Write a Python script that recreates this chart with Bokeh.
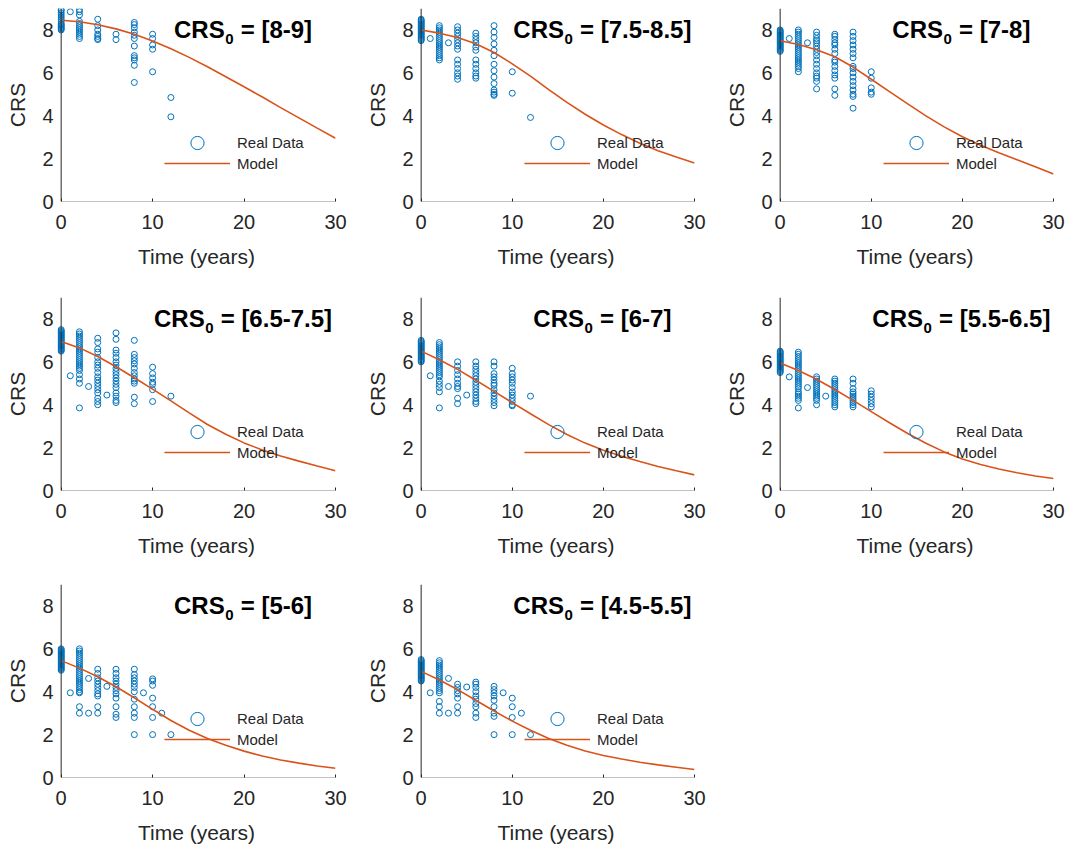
from bokeh.plotting import figure
from bokeh.layouts import column, row
from bokeh.models import (Range1d, Label, Legend, LegendItem, FixedTicker, ColumnDataSource,
                          Span, BoxAnnotation)
from bokeh.embed import file_html
from bokeh.resources import INLINE

# ---------------- data ----------------
TIME_TICKS = [0, 10, 20, 30]
CRS_TICKS = [0, 2, 4, 6, 8]
MODEL_T = [0, 2, 4, 6, 8, 10, 12, 14, 16, 18, 20, 22, 24, 26, 28, 30]

PANEL_RANGES = ["[8-9]", "[7.5-8.5]", "[7-8]", "[6.5-7.5]", "[6-7]", "[5.5-6.5]", "[5-6]", "[4.5-5.5]"]

model_8_9 = [8.45, 8.38, 8.24, 8.05, 7.8, 7.48, 7.12, 6.72, 6.28, 5.82, 5.35, 4.87, 4.38, 3.9, 3.42, 2.95]
model_75_85 = [8.0, 7.85, 7.65, 7.36, 6.95, 6.42, 5.85, 5.22, 4.62, 4.07, 3.57, 3.12, 2.72, 2.37, 2.07, 1.8]
model_7_8 = [7.5, 7.32, 7.08, 6.75, 6.27, 5.7, 5.12, 4.55, 3.99, 3.48, 3.02, 2.62, 2.27, 1.95, 1.62, 1.28]
model_65_75 = [6.95, 6.65, 6.25, 5.77, 5.26, 4.73, 4.18, 3.62, 3.08, 2.62, 2.22, 1.89, 1.61, 1.37, 1.14, 0.92]
model_6_7 = [6.5, 6.1, 5.65, 5.14, 4.62, 4.1, 3.58, 3.07, 2.61, 2.21, 1.88, 1.6, 1.35, 1.12, 0.92, 0.73]
model_55_65 = [5.95, 5.6, 5.19, 4.71, 4.2, 3.68, 3.16, 2.66, 2.2, 1.8, 1.47, 1.21, 1.0, 0.83, 0.68, 0.56]
model_5_6 = [5.45, 5.1, 4.7, 4.23, 3.72, 3.18, 2.66, 2.2, 1.82, 1.5, 1.23, 1.0, 0.82, 0.67, 0.54, 0.43]
model_45_55 = [4.95, 4.55, 4.1, 3.6, 3.1, 2.63, 2.2, 1.82, 1.5, 1.24, 1.03, 0.86, 0.71, 0.59, 0.48, 0.37]

real_8_9 = {
    0: [8.0, 8.05, 8.1, 8.15, 8.2, 8.25, 8.3, 8.4, 8.5, 8.6, 8.7, 8.8, 8.9, 8.95],
    1: [8.85],
    2: [8.95, 8.85, 8.7, 8.4, 8.3, 8.2, 8.1, 8.0, 7.9, 7.8, 7.7, 7.6],
    4: [8.5, 8.2, 8.0, 7.8, 7.7, 7.6, 7.55],
    6: [7.8, 7.55],
    8: [8.35, 8.25, 8.1, 7.9, 7.75, 7.6, 7.25, 6.8, 6.7, 6.6, 6.35, 5.55],
    10: [7.8, 7.6, 7.3, 7.1, 6.05],
    12: [4.85, 3.95],
}
real_75_85 = {
    0: [7.5, 7.55, 7.6, 7.65, 7.7, 7.75, 7.8, 7.85, 7.9, 7.95, 8.0, 8.05, 8.1, 8.15, 8.2, 8.25, 8.3, 8.35, 8.4, 8.45, 8.5],
    1: [7.6],
    2: [8.2, 8.1, 8.0, 7.9, 7.8, 7.7, 7.6, 7.5, 7.4, 7.3, 7.2, 7.1, 7.0, 6.9, 6.8, 6.7, 6.6],
    3: [7.4],
    4: [8.15, 8.0, 7.85, 7.7, 7.55, 7.4, 7.25, 7.1, 6.6, 6.4, 6.2, 6.0, 5.85, 5.7],
    6: [7.85, 7.7, 7.55, 7.4, 7.2, 7.05, 6.6, 6.4, 6.2, 6.0, 5.85, 5.75],
    8: [8.2, 7.9, 7.65, 7.35, 7.05, 6.8, 6.4, 6.1, 5.8, 5.5, 5.2, 5.1, 5.0, 4.95],
    10: [6.05, 5.05],
    12: [3.92],
}
real_7_8 = {
    0: [7.0, 7.05, 7.1, 7.15, 7.2, 7.25, 7.3, 7.35, 7.4, 7.45, 7.5, 7.55, 7.6, 7.65, 7.7, 7.75, 7.8, 7.85, 7.9, 7.95, 8.0],
    1: [7.6],
    2: [8.0, 7.9, 7.8, 7.7, 7.6, 7.5, 7.4, 7.3, 7.2, 7.1, 7.0, 6.9, 6.8, 6.7, 6.6, 6.5, 6.4, 6.3, 6.2, 6.05],
    3: [7.4],
    4: [7.9, 7.75, 7.6, 7.5, 7.4, 7.25, 7.1, 6.95, 6.8, 6.6, 6.4, 6.2, 6.0, 5.85, 5.75, 5.6, 5.25],
    6: [7.8, 7.7, 7.55, 7.4, 7.3, 7.1, 6.9, 6.6, 6.5, 6.3, 6.1, 5.9, 5.75, 5.25, 4.95],
    8: [7.9, 7.7, 7.5, 7.3, 7.1, 6.9, 6.7, 6.3, 6.2, 6.0, 5.8, 5.6, 5.4, 5.2, 5.0, 4.9, 4.35],
    10: [6.05, 5.75, 5.3, 5.1, 5.0],
}
real_65_75 = {
    0: [6.5, 6.55, 6.6, 6.65, 6.7, 6.75, 6.8, 6.85, 6.9, 6.95, 7.0, 7.05, 7.1, 7.15, 7.2, 7.25, 7.3, 7.35, 7.4, 7.45, 7.5],
    1: [5.35],
    2: [7.4, 7.3, 7.2, 7.1, 7.0, 6.9, 6.8, 6.7, 6.6, 6.5, 6.4, 6.3, 6.2, 6.1, 6.0, 5.9, 5.8, 5.7, 5.6, 5.4, 5.2, 5.0, 3.85],
    3: [4.85],
    4: [7.1, 6.9, 6.6, 6.45, 6.2, 6.0, 5.85, 5.7, 5.5, 5.3, 5.15, 5.0, 4.85, 4.7, 4.55, 4.3, 4.15, 4.0],
    5: [4.45],
    6: [7.35, 7.05, 6.55, 6.4, 6.2, 6.0, 5.85, 5.7, 5.55, 5.4, 5.25, 5.1, 4.95, 4.8, 4.55, 4.4, 4.2, 4.1],
    8: [7.0, 6.35, 6.2, 6.05, 5.9, 5.7, 5.5, 5.35, 5.2, 5.1, 5.0, 4.35, 4.05],
    10: [5.75, 5.45, 5.25, 5.05, 4.95, 4.7, 4.15],
    12: [4.4],
}
real_6_7 = {
    0: [6.0, 6.05, 6.1, 6.15, 6.2, 6.25, 6.3, 6.35, 6.4, 6.45, 6.5, 6.55, 6.6, 6.65, 6.7, 6.75, 6.8, 6.85, 6.9, 6.95, 7.0],
    1: [5.35],
    2: [6.9, 6.8, 6.7, 6.6, 6.5, 6.4, 6.3, 6.2, 6.1, 6.0, 5.9, 5.8, 5.7, 5.6, 5.5, 5.4, 5.3, 5.1, 4.95, 4.8, 4.6, 3.85],
    3: [4.85],
    4: [6.0, 5.8, 5.6, 5.4, 5.2, 5.0, 4.85, 4.75, 4.3, 4.05],
    5: [4.45],
    6: [6.0, 5.8, 5.65, 5.5, 5.35, 5.2, 5.05, 4.9, 4.75, 4.6, 4.45, 4.3, 4.15, 4.05],
    8: [6.0, 5.8, 5.45, 5.3, 5.15, 5.0, 4.9, 4.7, 4.55, 4.4, 4.25, 4.1, 3.95],
    10: [5.7, 5.45, 5.3, 5.15, 5.0, 4.8, 4.6, 4.45, 4.3, 4.15, 4.0, 3.95],
    12: [4.4],
}
real_55_65 = {
    0: [5.5, 5.55, 5.6, 5.65, 5.7, 5.75, 5.8, 5.85, 5.9, 5.95, 6.0, 6.05, 6.1, 6.15, 6.2, 6.25, 6.3, 6.35, 6.4, 6.45, 6.5],
    1: [5.3],
    2: [6.45, 6.35, 6.25, 6.15, 6.05, 5.95, 5.85, 5.75, 5.65, 5.55, 5.45, 5.35, 5.25, 5.15, 5.05, 4.95, 4.85, 4.75, 4.6, 4.5, 4.4, 4.3, 4.2, 3.85],
    3: [4.8],
    4: [5.3, 5.2, 5.1, 5.0, 4.9, 4.8, 4.7, 4.6, 4.5, 4.4, 4.3, 4.2, 4.0],
    5: [4.4],
    6: [5.2, 5.1, 5.0, 4.9, 4.8, 4.7, 4.6, 4.5, 4.4, 4.3, 4.2, 4.1, 4.0, 3.9],
    8: [5.2, 5.0, 4.75, 4.6, 4.5, 4.4, 4.3, 4.2, 4.1, 4.0, 3.9],
    10: [4.65, 4.5, 4.35, 4.2, 4.05, 3.9],
}
real_5_6 = {
    0: [5.0, 5.05, 5.1, 5.15, 5.2, 5.25, 5.3, 5.35, 5.4, 5.45, 5.5, 5.55, 5.6, 5.65, 5.7, 5.75, 5.8, 5.85, 5.9, 5.95, 6.0],
    1: [3.95],
    2: [6.0, 5.9, 5.8, 5.7, 5.6, 5.5, 5.4, 5.3, 5.2, 5.1, 5.0, 4.9, 4.8, 4.7, 4.6, 4.5, 4.4, 4.3, 4.2, 4.1, 4.0, 3.95, 3.3, 3.0],
    3: [4.62, 3.0],
    4: [5.05, 4.85, 4.65, 4.5, 4.35, 4.2, 4.05, 3.9, 3.8, 3.3, 3.0],
    5: [4.25],
    6: [5.05, 4.85, 4.65, 4.5, 4.35, 4.2, 4.05, 3.9, 3.7, 3.3, 2.95, 2.8],
    8: [5.05, 4.8, 4.65, 4.5, 4.35, 4.2, 4.0, 3.65, 3.3, 3.0, 2.8, 2.0],
    9: [3.95],
    10: [4.6, 4.5, 4.3, 3.7, 3.3, 2.8, 2.0],
    11: [3.0],
    12: [2.0],
}
real_45_55 = {
    0: [4.5, 4.55, 4.6, 4.65, 4.7, 4.75, 4.8, 4.85, 4.9, 4.95, 5.0, 5.05, 5.1, 5.15, 5.2, 5.25, 5.3, 5.35, 5.4, 5.45, 5.5],
    1: [3.95],
    2: [5.45, 5.35, 5.25, 5.15, 5.05, 4.95, 4.85, 4.75, 4.65, 4.55, 4.45, 4.35, 4.25, 4.15, 4.05, 3.95, 3.55, 3.3, 3.0],
    3: [4.62, 3.0],
    4: [4.35, 4.2, 4.05, 3.9, 3.7, 3.3, 3.0],
    5: [4.22],
    6: [4.45, 4.35, 4.2, 4.0, 3.8, 3.65, 3.45, 3.3, 3.0, 2.8],
    8: [4.25, 4.1, 3.95, 3.8, 3.6, 3.3, 3.0, 2.85, 2.0],
    9: [3.95],
    10: [3.7, 3.3, 2.8, 2.0],
    11: [3.0],
    12: [2.0],
}

REAL = [real_8_9, real_75_85, real_7_8, real_65_75, real_6_7, real_55_65, real_5_6, real_45_55]
MODEL = [model_8_9, model_75_85, model_7_8, model_65_75, model_6_7, model_55_65, model_5_6, model_45_55]

# ---------------- style ----------------
BLUE = "#0072BD"
ORANGE = "#D95319"
AXC = "#262626"
FONT = "Liberation Sans"

X_PAD = 0.4  # small room left of the y axis so circles at t=0 are not cut
COL_W = [359, 359, 351]
COL_LEFT = [57, 58, 58]
COL_RIGHT = [24, 24, 16]
ROW_H = [290, 288, 270]
ROW_TOP = [8, 7, 6]
ROW_BOTTOM = [89, 88, 71]

BOLD_W = {"C": .722, "R": .722, "S": .667, " ": .278, "=": .584, "[": .333,
          "]": .333, "-": .333, ".": .278}
for d in "0123456789":
    BOLD_W[d] = .556


def tw(s, size):
    return sum(BOLD_W[c] for c in s) * size


TITLE_SIZE = 24
SUB_SIZE = 15


def make_panel(i):
    r, c = divmod(i, 3)
    p = figure(width=COL_W[c], height=ROW_H[r], output_backend="svg", toolbar_location=None,
               x_range=Range1d(-X_PAD, 30), y_range=Range1d(0, 9),
               min_border_left=COL_LEFT[c], min_border_right=COL_RIGHT[c],
               min_border_top=ROW_TOP[r], min_border_bottom=ROW_BOTTOM[r])
    p.outline_line_color = None
    p.xgrid.visible = False
    p.ygrid.visible = False
    p.background_fill_color = "white"
    p.border_fill_color = "white"

    data = REAL[i]
    xs, ys = [], []
    for t, vals in data.items():
        for v in vals:
            xs.append(t)
            ys.append(v)
    src = ColumnDataSource(dict(t=xs, crs=ys))
    sc = p.scatter("t", "crs", source=src, marker="circle", size=6, fill_color=None,
                   line_color=BLUE, line_width=1)
    ln = p.line(MODEL_T, MODEL[i], line_color=ORANGE, line_width=1.6)

    p.xaxis.ticker = FixedTicker(ticks=TIME_TICKS)
    p.yaxis.ticker = FixedTicker(ticks=CRS_TICKS)
    p.xaxis.axis_label = "Time (years)"
    p.yaxis.axis_label = "CRS"
    for ax in (p.xaxis[0], p.yaxis[0]):
        ax.axis_line_color = None
        ax.major_tick_line_color = AXC
        ax.major_tick_in = 3
        ax.major_tick_out = 0
        ax.minor_tick_line_color = None
        ax.major_label_text_font = FONT
        ax.major_label_text_font_size = "20px"
        ax.major_label_text_color = AXC
        ax.axis_label_text_font = FONT
        ax.axis_label_text_font_size = "21px"
        ax.axis_label_text_font_style = "normal"
        ax.axis_label_text_color = AXC
    p.yaxis.major_tick_line_color = None
    p.xaxis.major_label_standoff = 13
    p.xaxis.axis_label_standoff = 13
    p.yaxis.major_label_standoff = 4
    p.yaxis.axis_label_standoff = 10

    # axis lines meeting at the origin
    p.add_layout(Span(location=0, dimension="height", line_color=AXC, line_width=1))
    p.add_layout(BoxAnnotation(left=0, right=30, bottom=0, top=0, fill_alpha=0,
                               line_color=AXC, line_width=1))

    # legend (two stacked legends to mimic MATLAB layout)
    lg1 = Legend(items=[LegendItem(label="Real Data", renderers=[sc])], location=(107, 42),
                 glyph_width=66, glyph_height=33, label_height=33, label_standoff=7,
                 padding=0, margin=0, spacing=0, border_line_color=None,
                 background_fill_alpha=0, label_text_font=FONT, label_text_font_size="15px",
                 label_text_color=AXC)
    lg2 = Legend(items=[LegendItem(label="Model", renderers=[ln])], location=(107, 28),
                 glyph_width=66, glyph_height=20, label_height=20, label_standoff=7,
                 padding=0, margin=0, spacing=0, border_line_color=None,
                 background_fill_alpha=0, label_text_font=FONT, label_text_font_size="15px",
                 label_text_color=AXC)
    p.add_layout(lg1)
    p.add_layout(lg2)

    # title with subscript
    rng = PANEL_RANGES[i]
    w1 = tw("CRS", TITLE_SIZE)
    w2 = tw("0", SUB_SIZE) + 1
    w3 = tw(" = " + rng, TITLE_SIZE)
    left = -(w1 + w2 + w3) / 2 - 1
    common = dict(x=20, y=8, text_font=FONT, text_font_style="bold", text_color="black",
                  text_baseline="middle", text_align="left")
    p.add_layout(Label(text="CRS", x_offset=left, text_font_size=f"{TITLE_SIZE}px", **common))
    p.add_layout(Label(text="0", x_offset=left + w1 + 0.5, y_offset=-9,
                       text_font_size=f"{SUB_SIZE}px", **common))
    p.add_layout(Label(text="= " + rng, x_offset=left + w1 + w2 + tw(" ", TITLE_SIZE),
                       text_font_size=f"{TITLE_SIZE}px", **common))
    return p


panels = [make_panel(i) for i in range(8)]
layout = column(row(*panels[0:3]), row(*panels[3:6]), row(*panels[6:8]))

open("out.html", "w").write(file_html(layout, INLINE))
